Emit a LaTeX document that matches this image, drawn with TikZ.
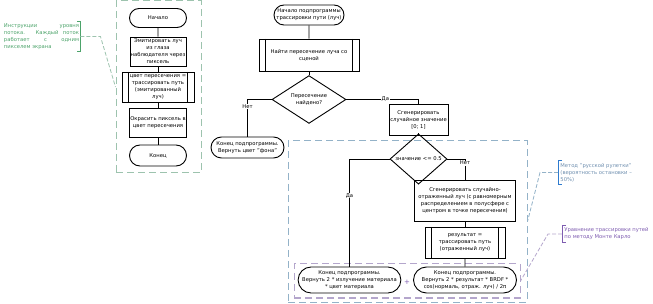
\documentclass[tikz,border=0pt]{standalone}
\usepackage{fontspec}
\setmainfont{DejaVu Sans}
\usetikzlibrary{shapes.geometric,shapes.misc}
\hbadness=10000
\hyphenpenalty=10000
\exhyphenpenalty=10000
\setlength{\parindent}{0pt}

\definecolor{grpgreen}{HTML}{9DC3AE}
\definecolor{anngreen}{HTML}{4CA36A}
\definecolor{grpblue}{HTML}{93B2C8}
\definecolor{annblue}{HTML}{6F8FAF}
\definecolor{brkblue}{HTML}{2E7BCF}
\definecolor{grppurple}{HTML}{B4A6CC}
\definecolor{annpurple}{HTML}{7E5CB0}

\begin{document}
\begin{tikzpicture}[x=1pt, y=-1pt, line width=0.9pt,
  font=\fontsize{5.25}{7}\selectfont,
  term/.style={draw, rounded rectangle, inner sep=0pt, align=center},
  proc/.style={draw, rectangle, inner sep=0pt, align=center},
  subproc/.style={draw, rectangle, inner sep=0pt, align=center, path picture={
      \draw ([xshift=6.5pt]path picture bounding box.north west) -- ([xshift=6.5pt]path picture bounding box.south west);
      \draw ([xshift=-6.5pt]path picture bounding box.north east) -- ([xshift=-6.5pt]path picture bounding box.south east);}},
  cond/.style={draw, diamond, inner sep=0pt, align=center},
  lbl/.style={fill=white, inner sep=0.6pt},
  grp/.style={draw, dash pattern=on 7pt off 4pt, line width=1pt},
  link/.style={dash pattern=on 4pt off 2pt, line width=0.8pt},
  anntext/.style={inner xsep=0pt, inner ysep=2pt}]

\useasboundingbox (0,0) rectangle (653,304);

% --- Groups ---
\node[grp, draw=grpgreen, minimum width=85pt, minimum height=172pt] (gL) at (158.5,87) {};
\node[grp, draw=grpblue, minimum width=239pt, minimum height=161pt] (gB) at (407.5,221.5) {};
\node[grp, draw=grppurple, minimum width=226pt, minimum height=34pt] (gP) at (407,281) {};

% --- Thread level ---
\node[term, minimum width=57pt, minimum height=19pt] (beg) at (158,18) {Начало};
\node[proc, minimum width=56pt, minimum height=29pt] (emit) at (158,51.5) {Эмитировать луч\\из глаза\\наблюдателя через\\пиксель};
\node[subproc, minimum width=72pt, minimum height=30pt] (trace) at (158,87) {цвет пересечения =\\трассировать путь\\(эмитированный\\луч)};
\node[proc, minimum width=57pt, minimum height=29pt] (paint) at (158,122.5) {Окрасить пиксель в\\цвет пересечения};
\node[term, minimum width=57pt, minimum height=21pt] (fin) at (158,155.5) {Конец};

\draw (beg) -- (emit);
\draw (emit) -- (trace);
\draw (trace) -- (paint);
\draw (paint) -- (fin);

% --- Path tracing subroutine ---
\node[term, minimum width=70pt, minimum height=20pt] (sub) at (309,15) {Начало подпрограммы\\трассировки пути (луч)};
\node[subproc, minimum width=100pt, minimum height=32pt] (isect) at (309,55) {Найти пересечение луча со\\сценой};
\node[cond, minimum width=74pt, minimum height=39pt] (found) at (309,99.5) {Пересечение\\найдено?};
\node[term, minimum width=73pt, minimum height=21pt] (bg) at (247.5,147.5) {Конец подпрограммы.\\Вернуть цвет "фона"};
\node[proc, minimum width=59pt, minimum height=31pt] (rnd) at (418.5,119.5) {Сгенерировать\\случайное значение\\{[0; 1]}};

\draw (sub) -- (isect);
\draw (isect) -- (found);
\draw (found.west) -| (bg.north) node[lbl, pos=0.6] {Нет};
\draw (found.east) -| (rnd.north) node[lbl, pos=0.27] {Да};

% --- Russian roulette ---
\node[cond, minimum width=57pt, minimum height=32pt] (half) at (418.5,159) {значение <= 0.5};
\node[proc, minimum width=101pt, minimum height=41pt] (refl) at (465,200.5) {Сгенерировать случайно-\\отраженный луч (с равномерным\\распределением в полусфере с\\центром в точке пересечения)};
\node[subproc, minimum width=80pt, minimum height=31pt] (res) at (465,242.5) {результат =\\трассировать путь\\(отраженный луч)};
\node[term, minimum width=99pt, minimum height=26pt] (emis) at (349.5,280) {Конец подпрограммы.\\Вернуть 2 * излучение материала\\* цвет материала};
\node[term, minimum width=103pt, minimum height=26pt] (brdf) at (465,280) {Конец подпрограммы.\\Вернуть 2 * результат * BRDF *\\cos(нормаль, отраж. луч) / 2π};
\node[text=annpurple, font=\fontsize{7}{8}\selectfont] (plus) at (407,282) {+};

\draw (rnd) -- (half);
\draw (half.west) -| (emis.north) node[lbl, pos=0.67] {Да};
\draw (half.east) -| (refl.north) node[lbl, pos=0.6] {Нет};
\draw (refl) -- (res);
\draw (res) -- (brdf);

% --- Annotations ---
\node[anntext, text=anngreen, text width=75pt, align=justify] (aL) at (41.5,36.5) {Инструкции уровня\linebreak потока. Каждый поток\linebreak работает с одним\linebreak пикселем экрана};
\draw[anngreen] ([xshift=-2pt]aL.north east) -- ([xshift=1pt]aL.north east) -- ([xshift=1pt]aL.south east) -- ([xshift=-2pt]aL.south east);
\draw[link, grpgreen] ([xshift=1pt]aL.east) -- ++(20,0) -- (gL.west);

\node[anntext, text=annblue, anchor=west, align=left] (aB) at (560,172.5) {Метод "русской рулетки"\\(вероятность остановки –\\50\%)};
\draw[brkblue] ([xshift=2pt]aB.north west) -- ([xshift=-2pt]aB.north west) -- ([xshift=-2pt]aB.south west) -- ([xshift=2pt]aB.south west);
\draw[link, grpblue] ([xshift=-2pt]aB.west) -- ++(-18,0) -- (gB.east);

\node[anntext, text=annpurple, anchor=west, align=left] (aP) at (564,234) {Уравнение трассировки путей\\по методу Монте Карло};
\draw[annpurple] ([xshift=2pt]aP.north west) -- ([xshift=-2pt]aP.north west) -- ([xshift=-2pt]aP.south west) -- ([xshift=2pt]aP.south west);
\draw[link, grppurple] ([xshift=-2pt]aP.west) -- ++(-14,0) -- (gP.east);

\end{tikzpicture}
\end{document}
